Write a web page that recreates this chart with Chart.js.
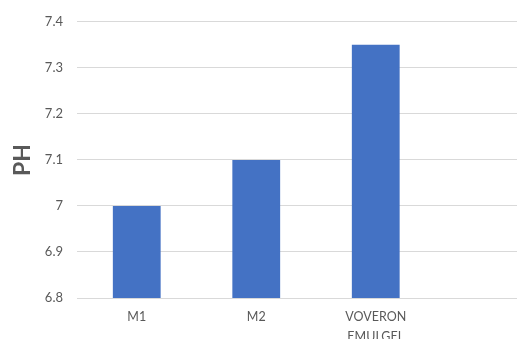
<!DOCTYPE html>
<html>
<head>
<meta charset="utf-8">
<script src="https://cdn.jsdelivr.net/npm/chart.js@4/dist/chart.umd.min.js"></script>
<style>
  html, body { margin: 0; padding: 0; background: #fff; overflow: hidden; }
  #wrap { position: relative; width: 560px; height: 360px; }
</style>
</head>
<body>
<div id="wrap"><canvas id="phChart"></canvas></div>
<script>
// samples on the x axis (last slot is empty in the source picture)
const categories = ['M1', 'M2', ['VOVERON', 'EMULGEL'], ''];
// measured pH per sample
const phValues = [7.0, 7.1, 7.35, null];
const yMin = 6.8;
const yMax = 7.4;
const yStep = 0.1;

const grey = '#595959';
const gridGrey = '#D9D9D9';

const ctx = document.getElementById('phChart').getContext('2d');
new Chart(ctx, {
  type: 'bar',
  data: {
    labels: categories,
    datasets: [
      {
        label: 'PH',
        data: phValues,
        backgroundColor: '#4472C4',
        barPercentage: 0.4,
        categoryPercentage: 1.0,
      },
    ],
  },
  options: {
    responsive: true,
    maintainAspectRatio: false,
    animation: false,
    layout: { padding: { top: 19, right: 5, left: 0, bottom: 0 } },
    plugins: {
      legend: { display: false },
      tooltip: { enabled: false },
    },
    scales: {
      x: {
        grid: { display: false },
        border: { display: false },
        ticks: {
          color: grey,
          padding: 1,
          maxRotation: 0,
          autoSkip: false,
          font: { family: 'Lato', size: 12.5, lineHeight: 1.6 },
        },
        afterFit: (scale) => { scale.height = 62; },
      },
      y: {
        min: yMin,
        max: yMax,
        grid: { color: gridGrey, lineWidth: 1, drawTicks: false },
        border: { display: false },
        ticks: {
          stepSize: yStep,
          color: grey,
          padding: 14,
          font: { family: 'Lato', size: 13 },
          callback: (v) => parseFloat(v.toFixed(1)).toString(),
        },
        title: {
          display: true,
          text: 'PH',
          color: grey,
          padding: { top: 9, bottom: 0 },
          font: { family: 'Lato', size: 23, weight: 'bold' },
        },
        afterFit: (scale) => { scale.width = 77; },
      },
    },
  },
});
</script>
</body>
</html>
